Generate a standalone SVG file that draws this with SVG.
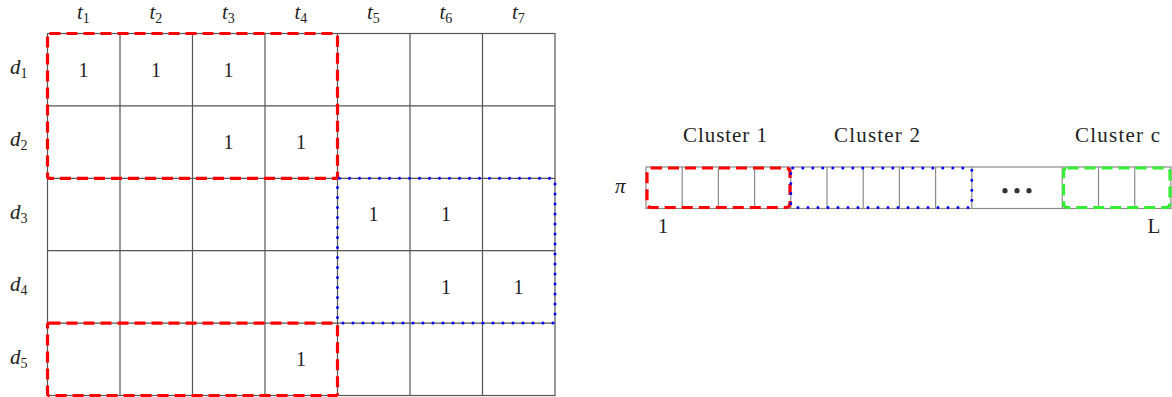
<svg xmlns="http://www.w3.org/2000/svg" width="1172" height="397" viewBox="0 0 1172 397">
<style>
.grid{stroke:#555;stroke-width:1.2;fill:none}
.strip{stroke:#8a8a8a;stroke-width:1.2;fill:none}
.red{stroke:#ff0000;stroke-width:3.2;fill:none;stroke-dasharray:11 6}
.blue{stroke:#0000ff;stroke-width:3;fill:none;stroke-dasharray:0 10;stroke-linecap:round}
.green{stroke:#33ee33;stroke-width:3.2;fill:none;stroke-dasharray:11 6}
.math{font-family:"Liberation Serif",serif;font-style:italic;font-size:21px;fill:#222}
.sub{font-size:14px;font-style:normal}
.num{font-family:"Liberation Serif",serif;font-size:20px;fill:#222;text-anchor:middle}
.cl{font-family:"Liberation Serif",serif;font-size:21px;fill:#222;text-anchor:middle}
</style>
<g id="matrix">
<g class="grid">
<rect x="47.5" y="33.5" width="507.5" height="362"/>
<line x1="120" y1="33.5" x2="120" y2="395.5"/>
<line x1="192.5" y1="33.5" x2="192.5" y2="395.5"/>
<line x1="265" y1="33.5" x2="265" y2="395.5"/>
<line x1="337.5" y1="33.5" x2="337.5" y2="395.5"/>
<line x1="410" y1="33.5" x2="410" y2="395.5"/>
<line x1="482.5" y1="33.5" x2="482.5" y2="395.5"/>
<line x1="47.5" y1="105.9" x2="555" y2="105.9"/>
<line x1="47.5" y1="178.3" x2="555" y2="178.3"/>
<line x1="47.5" y1="250.7" x2="555" y2="250.7"/>
<line x1="47.5" y1="323.1" x2="555" y2="323.1"/>
</g>
</g>
<g id="col-labels">
<text class="math" x="77" y="19">t<tspan class="sub" dy="4">1</tspan></text>
<text class="math" x="149.5" y="19">t<tspan class="sub" dy="4">2</tspan></text>
<text class="math" x="222" y="19">t<tspan class="sub" dy="4">3</tspan></text>
<text class="math" x="294.5" y="19">t<tspan class="sub" dy="4">4</tspan></text>
<text class="math" x="367" y="19">t<tspan class="sub" dy="4">5</tspan></text>
<text class="math" x="439.5" y="19">t<tspan class="sub" dy="4">6</tspan></text>
<text class="math" x="512" y="19">t<tspan class="sub" dy="4">7</tspan></text>
</g>
<g id="row-labels">
<text class="math" x="10" y="74">d<tspan class="sub" dy="4">1</tspan></text>
<text class="math" x="10" y="146.4">d<tspan class="sub" dy="4">2</tspan></text>
<text class="math" x="10" y="218.8">d<tspan class="sub" dy="4">3</tspan></text>
<text class="math" x="10" y="291.2">d<tspan class="sub" dy="4">4</tspan></text>
<text class="math" x="10" y="363.6">d<tspan class="sub" dy="4">5</tspan></text>
</g>
<g id="entries">
<text class="num" x="83.5" y="76.5">1</text>
<text class="num" x="156" y="76.5">1</text>
<text class="num" x="228.5" y="76.5">1</text>
<text class="num" x="228.5" y="148.9">1</text>
<text class="num" x="301" y="148.9">1</text>
<text class="num" x="373.5" y="221.3">1</text>
<text class="num" x="446" y="221.3">1</text>
<text class="num" x="446" y="293.7">1</text>
<text class="num" x="518.5" y="293.7">1</text>
<text class="num" x="301" y="366.1">1</text>
</g>
<g id="matrix-clusters">
<rect class="red" x="47.5" y="33.5" width="290" height="144.8" rx="2"/>
<rect class="blue" x="337.5" y="178.3" width="217.5" height="144.8" rx="2"/>
<rect class="red" x="47.5" y="323.1" width="290" height="72.4" rx="2"/>
</g>
<g id="strip">
<g class="strip">
<rect x="646" y="167" width="524.9" height="41.5"/>
<line x1="682.2" y1="167" x2="682.2" y2="208.5"/>
<line x1="718.4" y1="167" x2="718.4" y2="208.5"/>
<line x1="754.6" y1="167" x2="754.6" y2="208.5"/>
<line x1="790.8" y1="167" x2="790.8" y2="208.5"/>
<line x1="827" y1="167" x2="827" y2="208.5"/>
<line x1="863.2" y1="167" x2="863.2" y2="208.5"/>
<line x1="899.4" y1="167" x2="899.4" y2="208.5"/>
<line x1="935.6" y1="167" x2="935.6" y2="208.5"/>
<line x1="971.8" y1="167" x2="971.8" y2="208.5"/>
<line x1="1062.3" y1="167" x2="1062.3" y2="208.5"/>
<line x1="1098.5" y1="167" x2="1098.5" y2="208.5"/>
<line x1="1134.7" y1="167" x2="1134.7" y2="208.5"/>
</g>
<g fill="#333">
<circle cx="1005" cy="190.7" r="2.6"/>
<circle cx="1017" cy="190.7" r="2.6"/>
<circle cx="1029" cy="190.7" r="2.6"/>
</g>
</g>
<g id="strip-clusters">
<rect class="red" x="647" y="168" width="143" height="39.5" rx="4"/>
<rect class="blue" x="790.8" y="168" width="181" height="39.5" rx="2"/>
<rect class="green" x="1063.5" y="168" width="106.5" height="39.5" rx="4"/>
</g>
<g id="strip-labels">
<text class="cl" x="725" y="142" textLength="84">Cluster 1</text>
<text class="cl" x="877" y="142" textLength="86">Cluster 2</text>
<text class="cl" x="1117.5" y="142" textLength="85">Cluster c</text>
<text class="math" x="615" y="193">π</text>
<text class="cl" x="663" y="233">1</text>
<text class="cl" x="1154" y="233">L</text>
</g>
</svg>
